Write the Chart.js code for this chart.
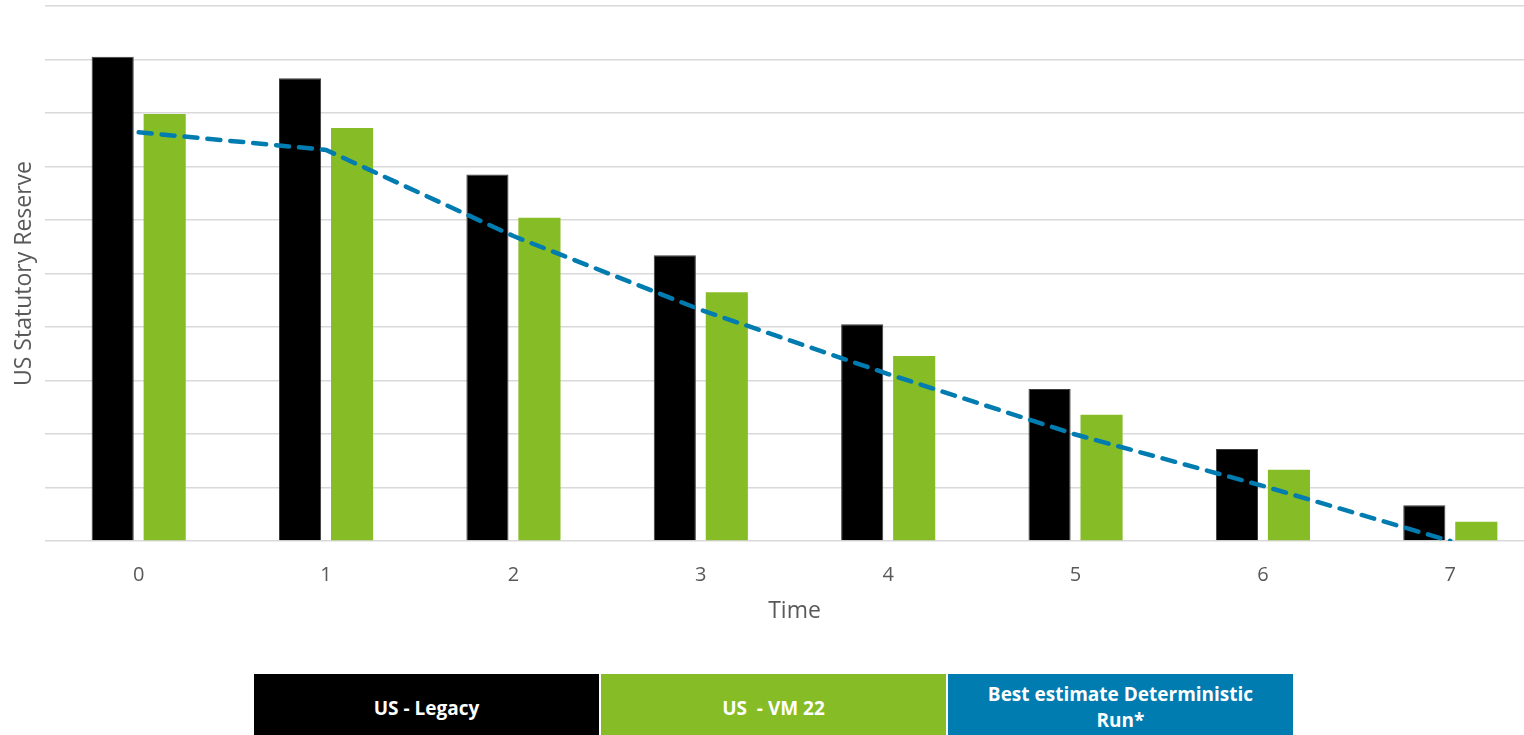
<!DOCTYPE html>
<html>
<head>
<meta charset="utf-8">
<script src="https://cdn.jsdelivr.net/npm/chart.js@4.4.1/dist/chart.umd.min.js"></script>
<style>
  html, body { margin: 0; padding: 0; background: #ffffff; overflow: hidden; width: 1524px; height: 735px; }
  #wrap { position: absolute; left: 0; top: 0; width: 1544px; height: 660px; }
  #legend { position: absolute; top: 674px; left: 254px; display: flex; gap: 2px; }
  .item { width: 345px; height: 80px; display: flex; justify-content: center; padding-top: 7px; box-sizing: border-box;
          color: #ffffff; font-family: "Open Sans", sans-serif; font-weight: 700; font-size: 19px; line-height: 26px;
          text-align: center; white-space: pre-wrap; }
  .item span { display: block; width: 290px; }
  .item.one { padding-top: 21px; }
</style>
</head>
<body>
<div id="wrap"><canvas id="c" width="1544" height="660"></canvas></div>
<div id="legend"></div>
<script>
// Time steps along the horizontal axis
const timeLabels = ['0', '1', '2', '3', '4', '5', '6', '7'];

// Reserve levels (relative units; the vertical axis carries no tick labels)
const legacyReserve = [9.05, 8.65, 6.85, 5.34, 4.05, 2.84, 1.72, 0.67];
const vm22Reserve   = [7.98, 7.72, 6.04, 4.65, 3.46, 2.36, 1.33, 0.36];
const bestEstimate  = [7.64, 7.31, 5.70, 4.32, 3.12, 1.99, 1.03, 0.00];

const seriesNames = ['US - Legacy', 'US  - VM 22', 'Best estimate Deterministic Run*'];
const seriesColors = ['#000000', '#86bc25', '#007cb0'];

const chart = new Chart(document.getElementById('c'), {
  data: {
    labels: timeLabels,
    datasets: [
      {
        type: 'line', label: seriesNames[2], data: bestEstimate, order: 0,
        borderColor: seriesColors[2], borderWidth: 4.5, borderDash: [13, 10], borderCapStyle: 'round',
        pointRadius: 0, tension: 0, fill: false
      },
      {
        type: 'bar', label: seriesNames[0], data: legacyReserve, order: 1,
        backgroundColor: seriesColors[0], borderColor: '#3c3c3c', borderWidth: 1,
        categoryPercentage: 0.555, barPercentage: 0.81
      },
      {
        type: 'bar', label: seriesNames[1], data: vm22Reserve, order: 1,
        backgroundColor: seriesColors[1],
        categoryPercentage: 0.555, barPercentage: 0.81
      }
    ]
  },
  options: {
    responsive: false,
    animation: false,
    layout: { padding: { top: 6, left: 0, right: 0, bottom: 0 } },
    plugins: { legend: { display: false }, tooltip: { enabled: false } },
    scales: {
      x: {
        offset: true,
        grid: { display: false, drawTicks: false },
        border: { display: false },
        ticks: { color: '#595959', font: { family: 'Open Sans', size: 20 }, padding: 22 },
        title: { display: true, text: 'Time', color: '#595959', font: { family: 'Open Sans', size: 23 }, padding: { top: 0, bottom: 35 } },
        afterFit: (s) => { s.height = 119; }
      },
      y: {
        min: 0, max: 10,
        ticks: { display: false, stepSize: 1 },
        grid: { color: '#d9d9d9', lineWidth: 1.4, drawTicks: false },
        border: { display: false },
        title: { display: true, text: 'US Statutory Reserve', color: '#595959', font: { family: 'Open Sans', size: 23 }, padding: { top: 11, bottom: 0 } },
        afterFit: (s) => { s.width = 45; }
      }
    }
  }
});

// Legend strip built from the dataset labels and colours
const legend = document.getElementById('legend');
[0, 1, 2].forEach((i) => {
  const d = document.createElement('div');
  d.className = 'item' + (i < 2 ? ' one' : '');
  d.style.background = seriesColors[i];
  const s = document.createElement('span');
  s.textContent = seriesNames[i];
  d.appendChild(s);
  legend.appendChild(d);
});
</script>
</body>
</html>
